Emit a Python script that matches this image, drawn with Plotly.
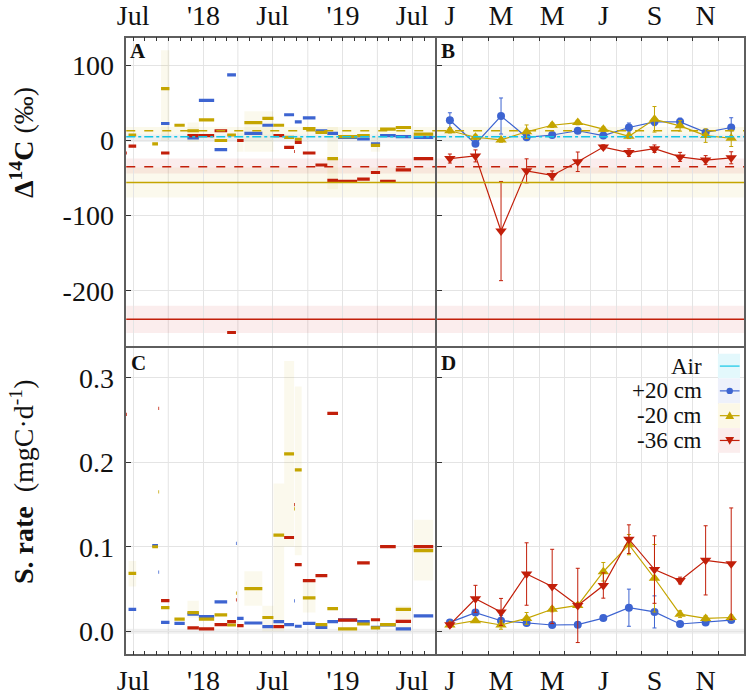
import plotly.graph_objects as go

W, H = 746, 696
FONT = "Liberation Serif"
BLUE = "#3d64d1"
GOLD = "#c4a500"
RED = "#c21f0a"
CYAN = "#12c6e6"

# ---------------- Panel A / C data: incubation periods ----------------
period_start = ["2017-06-10", "2017-06-19", "2017-08-20", "2017-09-05", "2017-09-12", "2017-10-17",
                "2017-11-20", "2017-12-20", "2018-01-30", "2018-03-04", "2018-03-27", "2018-03-30",
                "2018-04-18", "2018-06-04", "2018-07-03", "2018-07-31", "2018-08-26", "2018-08-28",
                "2018-09-18", "2018-10-21", "2018-11-21", "2018-12-19", "2019-02-07", "2019-03-15",
                "2019-04-08", "2019-05-19", "2019-07-05"]
period_end = ["2017-06-15", "2017-07-09", "2017-09-04", "2017-09-07", "2017-10-04", "2017-11-13",
              "2017-12-20", "2018-01-29", "2018-03-04", "2018-03-27", "2018-03-29", "2018-04-16",
              "2018-06-04", "2018-07-03", "2018-07-31", "2018-08-26", "2018-08-28", "2018-09-15",
              "2018-10-21", "2018-11-21", "2018-12-19", "2019-02-07", "2019-03-12", "2019-04-08",
              "2019-05-19", "2019-06-28", "2019-08-25"]

# Delta 14C (permil) per period
d14c_p20 = [None, None, None, None, 22.6, None, 3.4, 53.4, -12.2, 87.3, None, None, 9.5, 20.3,
            None, 34.3, None, 24.8, 30.0, 13.0, 9.5, 4.0, 2.0, -4.4, 6.5, 5.2, 4.3]
d14c_m20 = [None, 7.3, -4.4, None, 69.0, 20.3, 13.0, 27.4, 0.0, 7.3, None, None, 23.9, 29.5,
            20.3, 4.3, None, 1.7, 16.0, 10.8, -24.0, 5.2, 6.5, -6.5, 15.1, 17.3, 8.6]
d14c_m36 = [-16.6, -7.4, None, None, -16.6, None, 6.5, 6.5, 13.0, -255.5, None, 0.0, None, None,
            6.5, -9.1, -14.6, -2.6, -16.6, -32.6, -53.0, -54.4, -51.4, -42.6, -54.4, -39.0, -24.0]
d14c_m20_lo = [None, None, None, None, 0, None, -2, None, None, None, None, -15, -15, -15,
               None, None, None, None, None, None, -65, None, None, -15, None, None, None]
d14c_m20_hi = [None, None, None, None, 120, None, 24, None, None, None, None, 10, 39, 39,
               None, None, None, None, None, None, 18, None, None, 5, None, None, None]

# Sampling rate (mgC/d) per period
rate_p20 = [None, 0.0259, 0.1013, 0.070, 0.0104, 0.0093, 0.0201, 0.0174, 0.0348, None, 0.104, 0.0151,
            0.0097, 0.0054, 0.0112, 0.0077, 0.036, 0.0058, 0.0093, 0.0046, 0.0112, 0.0135, 0.0112,
            0.0046, 0.0073, 0.0027, 0.0182]
rate_m20 = [None, 0.0684, 0.100, 0.165, 0.0278, 0.0143, 0.022, 0.0143, 0.0193, 0.0073, 0.045, None,
            0.0503, 0.0162, 0.1137, 0.210, 0.145, 0.191, 0.0394, 0.0077, 0.0267, 0.0027, 0.0085,
            0.0039, 0.0077, 0.0259, 0.0955]
rate_m36 = [0.257, None, None, 0.264, 0.0363, None, 0.0039, 0.0027, 0.0077, 0.0112, 0.037, 0.0066,
            None, None, 0.0054, 0.111, 0.150, 0.0789, 0.060, 0.0658, 0.258, 0.0131, 0.0808, 0.0135,
            0.1001, 0.0116, 0.1001]
rate_m20_lo = [None, 0.053, None, None, None, None, 0.016, None, None, None, None, None, 0.030, 0.0,
               0.0, 0.10, None, 0.09, 0.022, None, None, None, None, None, None, 0.0, 0.06]
rate_m20_hi = [None, 0.083, None, None, None, None, 0.036, None, None, None, None, None, 0.071, 0.03,
               0.175, 0.32, None, 0.29, 0.060, None, None, None, None, None, None, 0.03, 0.132]

# Reference levels (mean and band) for panels A/B
air_mean, air_lo, air_hi = 5.0, -2.0, 8.0
m20_mean, m20_lo, m20_hi = 13.0, 8.0, 18.0
m36_mean, m36_lo, m36_hi = -35.0, -44.0, -24.0
soil20_mean, soil20_lo, soil20_hi = -56.0, -76.0, -36.0
soil36_mean, soil36_lo, soil36_hi = -238.0, -256.0, -220.0
rate_zero_lo, rate_zero_hi = -0.003, 0.003

# ---------------- Panel B / D data: monthly means ----------------
months = [1, 2, 3, 4, 5, 6, 7, 8, 9, 10, 11, 12]
month_ticks = [1, 3, 5, 7, 9, 11]
month_labels = ["J", "M", "M", "J", "S", "N"]

mon_d14c_p20 = [26.9, -4.4, 32.6, 4.3, 7.3, 13.0, 6.5, 17.3, 24.8, 24.8, 10.8, 17.3]
mon_d14c_p20_err = [10, 3, 24, 2, 2, 2, 2, 6, 5, 5, 3, 13]
mon_d14c_m20 = [13.0, 4.3, 0.8, 11.7, 20.3, 23.9, 15.1, 5.6, 28.2, 19.5, 6.5, 3.0]
mon_d14c_m20_err = [3, 3, 3, 9, 3, 3, 3, 3, 17, 7, 9, 11]
mon_d14c_m36 = [-24.0, -20.5, -120.5, -40.4, -46.5, -28.3, -8.7, -16.1, -10.9, -21.8, -26.1, -23.0]
mon_d14c_m36_err = [6, 8, 66, 16, 6, 13, 3, 5, 5, 6, 6, 8]

mon_rate_p20 = [0.0104, 0.022, 0.0124, 0.0097, 0.0073, 0.0077, 0.0155, 0.0278, 0.0228, 0.0085, 0.0104, 0.0131]
mon_rate_p20_err = [0.002, 0.003, 0.006, 0.002, 0.002, 0.002, 0.002, 0.022, 0.019, 0.002, 0.002, 0.002]
mon_rate_m20 = [0.0073, 0.0124, 0.0073, 0.0151, 0.0259, 0.0305, 0.0704, 0.1025, 0.0627, 0.0201, 0.0151, 0.0162]
mon_rate_m20_err = [0.002, 0.002, 0.005, 0.007, 0.003, 0.003, 0.011, 0.012, 0.04, 0.004, 0.003, 0.003]
mon_rate_m36 = [0.0077, 0.0383, 0.0228, 0.0677, 0.053, 0.0305, 0.0541, 0.109, 0.073, 0.060, 0.0839, 0.080]
mon_rate_m36_err = [0.003, 0.016, 0.016, 0.037, 0.044, 0.044, 0.015, 0.017, 0.04, 0.004, 0.041, 0.066]

date_ticks = ["2017-07-01", "2018-01-01", "2018-07-01", "2019-01-01", "2019-07-01"]
date_labels = ["Jul", "'18", "Jul", "'19", "Jul"]
quarter_grid = ["2017-10-01", "2018-04-01", "2018-10-01", "2019-04-01"]
d14c_ticks = [-200, -100, 0, 100]
d14c_labels = ["-200", "-100", "0", "100"]
rate_ticks = [0.0, 0.1, 0.2, 0.3]
rate_labels = ["0.0", "0.1", "0.2", "0.3"]

# ---------------- figure ----------------
fig = go.Figure()


def segs(vals):
    xs, ys = [], []
    for s, e, v in zip(period_start, period_end, vals):
        if v is None:
            continue
        xs += [s, e, None]
        ys += [v, v, None]
    return xs, ys


def rects(lo, hi):
    xs, ys = [], []
    for s, e, a, b in zip(period_start, period_end, lo, hi):
        if a is None:
            continue
        xs += [s, e, e, s, s, None]
        ys += [a, a, b, b, a, None]
    return xs, ys


for (lo, hi, xa, ya) in [(d14c_m20_lo, d14c_m20_hi, "x", "y"), (rate_m20_lo, rate_m20_hi, "x3", "y3")]:
    xs, ys = rects(lo, hi)
    fig.add_trace(go.Scatter(x=xs, y=ys, fill="toself", fillcolor="rgba(205,173,0,0.07)",
                             line=dict(width=0), mode="lines", xaxis=xa, yaxis=ya,
                             showlegend=False, hoverinfo="skip"))

for vals, col, xa, ya in [(d14c_p20, BLUE, "x", "y"), (d14c_m20, GOLD, "x", "y"), (d14c_m36, RED, "x", "y"),
                          (rate_p20, BLUE, "x3", "y3"), (rate_m20, GOLD, "x3", "y3"), (rate_m36, RED, "x3", "y3")]:
    xs, ys = segs(vals)
    fig.add_trace(go.Scatter(x=xs, y=ys, mode="lines", line=dict(color=col, width=3.2),
                             xaxis=xa, yaxis=ya, showlegend=False, hoverinfo="skip"))

series_b = [(mon_d14c_p20, mon_d14c_p20_err, BLUE, "circle", 8),
            (mon_d14c_m20, mon_d14c_m20_err, GOLD, "triangle-up", 10),
            (mon_d14c_m36, mon_d14c_m36_err, RED, "triangle-down", 10)]
series_d = [(mon_rate_p20, mon_rate_p20_err, BLUE, "circle", 8),
            (mon_rate_m20, mon_rate_m20_err, GOLD, "triangle-up", 10),
            (mon_rate_m36, mon_rate_m36_err, RED, "triangle-down", 10)]
for group, xa, ya in [(series_b, "x2", "y2"), (series_d, "x4", "y4")]:
    for vals, err, col, sym, sz in group:
        fig.add_trace(go.Scatter(x=months, y=vals, mode="lines+markers",
                                 line=dict(color=col, width=1.2),
                                 marker=dict(symbol=sym, size=sz, color=col),
                                 error_y=dict(type="data", array=err, color=col, thickness=1, width=2),
                                 xaxis=xa, yaxis=ya, showlegend=False, hoverinfo="skip"))

GRID = "#e4e4e4"
LINE = "#5e5e5e"
shapes = []

# quarterly vertical grid lines (Oct / Apr) for the dated panels
for xr, yd in [("x", "y domain"), ("x3", "y3 domain")]:
    for q in quarter_grid:
        shapes.append(dict(type="line", xref=xr, x0=q, x1=q, yref=yd, y0=0, y1=1,
                           line=dict(color=GRID, width=1), layer="below"))


def hband(xd, yr, lo, hi, color):
    shapes.append(dict(type="rect", xref=xd, x0=0, x1=1, yref=yr, y0=lo, y1=hi,
                       fillcolor=color, line=dict(width=0), layer="below"))


def hline(xd, yr, v, color, dash):
    shapes.append(dict(type="line", xref=xd, x0=0, x1=1, yref=yr, y0=v, y1=v,
                       line=dict(color=color, width=1.5, dash=dash), layer="above"))


for xd, yr in [("x domain", "y"), ("x2 domain", "y2")]:
    hband(xd, yr, soil20_lo, soil20_hi, "rgba(205,173,0,0.07)")
    hband(xd, yr, soil36_lo, soil36_hi, "rgba(205,0,0,0.07)")
    hband(xd, yr, m36_lo, m36_hi, "rgba(205,0,0,0.07)")
    hband(xd, yr, m20_lo, m20_hi, "rgba(205,173,0,0.08)")
    hband(xd, yr, air_lo, air_hi, "rgba(110,130,140,0.12)")
    hline(xd, yr, soil20_mean, GOLD, "solid")
    hline(xd, yr, soil36_mean, RED, "solid")
    hline(xd, yr, m36_mean, RED, "dash")
    hline(xd, yr, m20_mean, GOLD, "dash")
    hline(xd, yr, air_mean, CYAN, "dashdot")
for xd, yr in [("x3 domain", "y3"), ("x4 domain", "y4")]:
    hband(xd, yr, rate_zero_lo, rate_zero_hi, "rgba(0,0,0,0.06)")


def px(x):
    return x / W


def py(y):
    return 1 - y / H


# manual legend (text left, key right) in panel D
legend_items = [("Air", CYAN, None, "#e3f8fc"), ("+20 cm", BLUE, "circle", "#eef1fb"),
                ("-20 cm", GOLD, "tri-up", "#fcf8e7"), ("-36 cm", RED, "tri-down", "#fbeded")]
annotations = []
for i, (lab, col, sym, bg) in enumerate(legend_items):
    yc = 368.5 + i * 25.3
    shapes.append(dict(type="rect", xref="paper", yref="paper", x0=px(719.5), x1=px(742),
                       y0=py(yc - 12.6), y1=py(yc + 12.6), fillcolor=bg, line=dict(width=0), layer="above"))
    shapes.append(dict(type="line", xref="paper", yref="paper", x0=px(721.5), x1=px(741.5),
                       y0=py(yc), y1=py(yc), line=dict(color=col, width=1.2), layer="above"))
    cx = 731.5
    if sym == "circle":
        shapes.append(dict(type="circle", xref="paper", yref="paper", x0=px(cx - 3.3), x1=px(cx + 3.3),
                           y0=py(yc + 3.3), y1=py(yc - 3.3), fillcolor=col, line=dict(width=0), layer="above"))
    elif sym == "tri-up":
        path = "M %f %f L %f %f L %f %f Z" % (px(cx - 4.5), py(yc + 3.5), px(cx + 4.5), py(yc + 3.5), px(cx), py(yc - 4.5))
        shapes.append(dict(type="path", xref="paper", yref="paper", path=path, fillcolor=col,
                           line=dict(width=0), layer="above"))
    elif sym == "tri-down":
        path = "M %f %f L %f %f L %f %f Z" % (px(cx - 4.5), py(yc - 3.5), px(cx + 4.5), py(yc - 3.5), px(cx), py(yc + 4.5))
        shapes.append(dict(type="path", xref="paper", yref="paper", path=path, fillcolor=col,
                           line=dict(width=0), layer="above"))
    annotations.append(dict(text=lab, x=px(705), y=py(yc), xref="paper", yref="paper",
                            xanchor="right", yanchor="middle", showarrow=False,
                            font=dict(family=FONT, size=23, color="#111")))

for lab, x, y in [("A", 121, 33), ("B", 436, 33), ("C", 122, 351), ("D", 436, 351)]:
    annotations.append(dict(text="<b>%s</b>" % lab, x=px(x), y=py(y), xref="paper", yref="paper",
                            xanchor="left", yanchor="top", showarrow=False,
                            font=dict(family=FONT, size=21, color="#111")))

annotations.append(dict(text="<b>Δ<sup>14</sup>C</b> (‰)", x=px(13), y=py(140), xref="paper", yref="paper",
                        textangle=-90, showarrow=False, xanchor="center", yanchor="middle",
                        font=dict(family=FONT, size=28, color="#111")))
annotations.append(dict(text="<b>S. rate</b>  (mgC·d<sup>-1</sup>)", x=px(13), y=py(486), xref="paper",
                        yref="paper", textangle=-90, showarrow=False, xanchor="center", yanchor="middle",
                        font=dict(family=FONT, size=28, color="#111")))

tickfont = dict(family=FONT, size=28, color="#111")

xdomL = [px(119), px(432.5)]
xdomR = [px(434.5), 1.0]
ydomT = [py(347.5), py(33.3)]
ydomB = [py(662.7), py(350.5)]
date_range = ["2017-06-13", "2019-08-30"]

common_frame = dict(showline=True, mirror=True, linecolor=LINE, linewidth=1.5, zeroline=False)


def date_axis(side, anchor):
    return dict(domain=xdomL, type="date", range=date_range, side=side, anchor=anchor,
                tickmode="array", tickvals=date_ticks, ticktext=date_labels, tickfont=tickfont,
                ticks="inside", ticklen=4, tickcolor="#333", showgrid=True, gridcolor=GRID, gridwidth=1,
                minor=dict(dtick="M1", tick0="2017-07-01", ticks="inside", ticklen=4, tickcolor="#333",
                           showgrid=False),
                **common_frame)


def month_axis(side, anchor):
    return dict(domain=xdomR, range=[0.5, 12.5], side=side, anchor=anchor,
                tickmode="array", tickvals=month_ticks, ticktext=month_labels, tickfont=tickfont,
                ticks="", showgrid=False,
                minor=dict(tickmode="array", tickvals=[m + 0.5 for m in months[:-1]], ticks="inside",
                           ticklen=4, tickcolor="#333", showgrid=True, gridcolor=GRID, gridwidth=1),
                **common_frame)


def val_axis(domain, rng, tv, tt, anchor, labels):
    return dict(domain=domain, range=rng, anchor=anchor, tickmode="array", tickvals=tv, ticktext=tt,
                showticklabels=labels, tickfont=tickfont, ticks="inside", ticklen=5, tickcolor="#333",
                ticklabelstandoff=5,
                showgrid=True, gridcolor=GRID, gridwidth=1, **common_frame)


d14c_range = [-272.8, 136.9]
rate_range = [-0.0275, 0.335]

fig.update_layout(
    width=W, height=H, margin=dict(l=0, r=0, t=0, b=0),
    paper_bgcolor="white", plot_bgcolor="white", showlegend=False,
    xaxis=date_axis("top", "y"),
    yaxis=val_axis(ydomT, d14c_range, d14c_ticks, d14c_labels, "x", True),
    xaxis2=month_axis("top", "y2"),
    yaxis2=val_axis(ydomT, d14c_range, d14c_ticks, d14c_labels, "x2", False),
    xaxis3=date_axis("bottom", "y3"),
    yaxis3=val_axis(ydomB, rate_range, rate_ticks, rate_labels, "x3", True),
    xaxis4=month_axis("bottom", "y4"),
    yaxis4=val_axis(ydomB, rate_range, rate_ticks, rate_labels, "x4", False),
    shapes=shapes, annotations=annotations,
)

fig.write_html("out.html")
